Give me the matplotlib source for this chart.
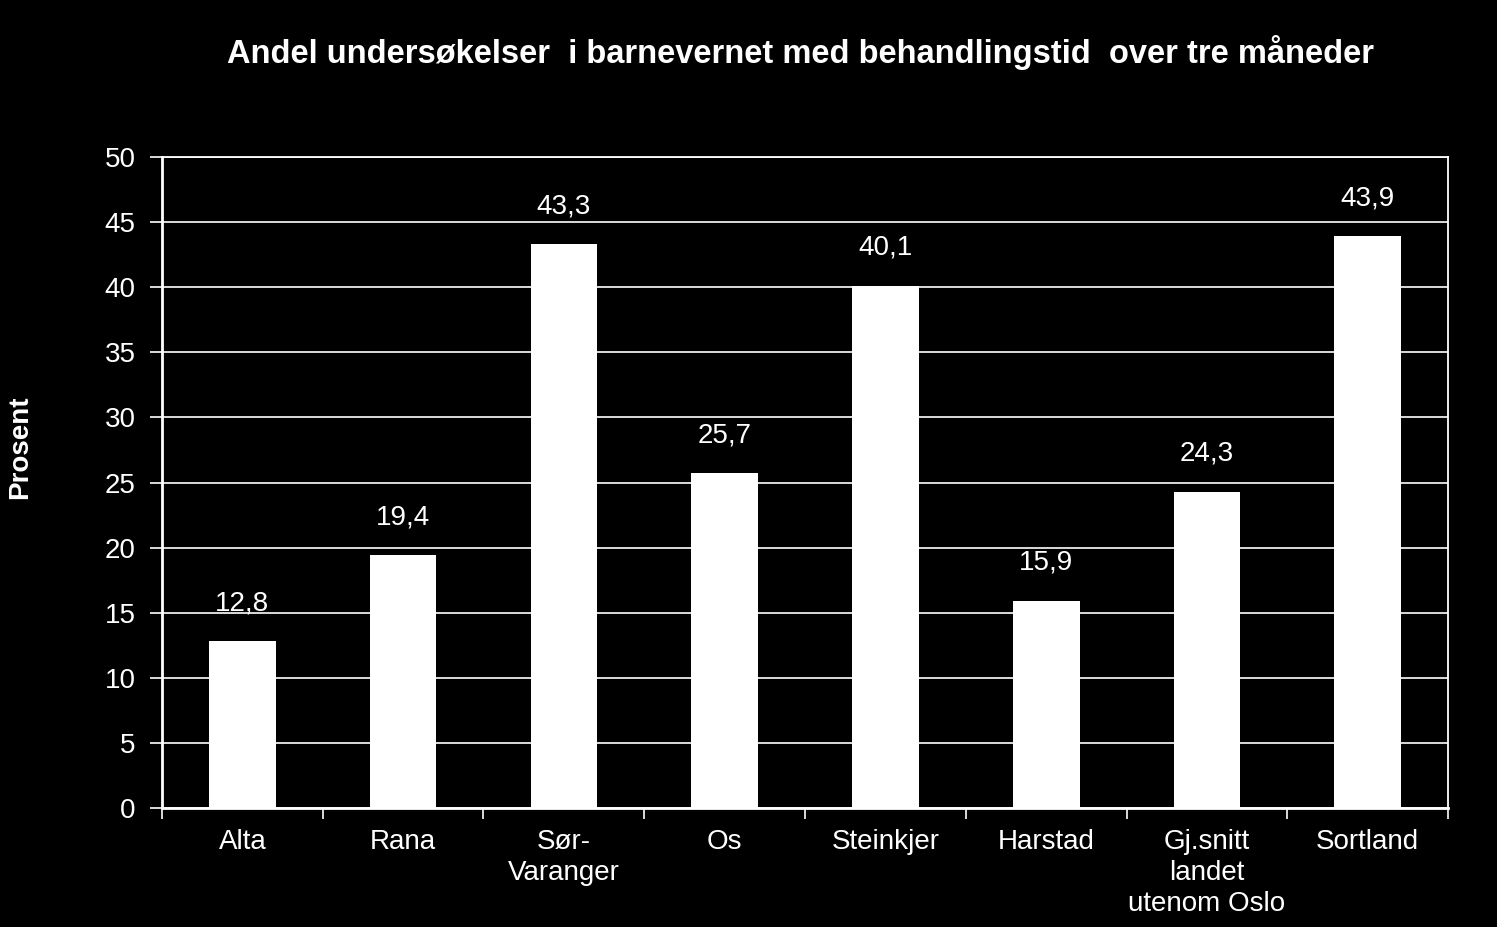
import matplotlib
matplotlib.use("Agg")
import matplotlib.pyplot as plt
import numpy as np

plt.rcParams['font.family'] = ['Liberation Sans', 'DejaVu Sans']

kommuner = ["Alta", "Rana", "Sør-\nVaranger", "Os", "Steinkjer", "Harstad",
            "Gj.snitt\nlandet\nutenom Oslo", "Sortland"]
andel = [12.8, 19.4, 43.3, 25.7, 40.1, 15.9, 24.3, 43.9]
yticks = [0, 5, 10, 15, 20, 25, 30, 35, 40, 45, 50]

fig = plt.figure(figsize=(14.97, 9.27), dpi=100, facecolor="black")
ax = fig.add_axes([0.1082, 0.1284, 0.8591, 0.7022], facecolor="black")

x = np.arange(len(kommuner))
bars = ax.bar(x, andel, width=0.415, color="white", zorder=3)

for b, v in zip(bars, andel):
    ax.annotate(f"{v:.1f}".replace(".", ","), (b.get_x() + b.get_width() / 2, v),
                xytext=(0, 18), textcoords="offset points", ha="center", va="bottom",
                color="white", fontsize=20)

ax.set_xlim(-0.5, len(kommuner) - 0.5)
ax.set_ylim(0, 50)
ax.set_yticks(yticks)
ax.set_yticklabels([str(t) for t in yticks], fontsize=20, color="white")
ax.yaxis.grid(True, color="white", linewidth=1.2, zorder=0)

ax.set_xticks(x)
ax.set_xticklabels(kommuner, fontsize=20, color="white", linespacing=1.25)
ax.tick_params(axis="x", length=0, pad=15)
ax.set_xticks(np.arange(-0.5, len(kommuner)), minor=True)
ax.tick_params(axis="x", which="minor", length=8, width=1.2, color="white")
ax.tick_params(axis="y", length=9, width=1.2, color="white", pad=10)

for s in ["left", "bottom"]:
    ax.spines[s].set_color("white")
    ax.spines[s].set_linewidth(2)
for s in ["top", "right"]:
    ax.spines[s].set_color("white")
    ax.spines[s].set_linewidth(1.3)

fig.text(20 / 1497, 1 - 447 / 927, "Prosent", rotation=90, ha="center", va="center",
         fontsize=20, fontweight="bold", color="white")
fig.text(0.535, 0.943, "Andel undersøkelser  i barnevernet med behandlingstid  over tre måneder",
         ha="center", va="center", fontsize=23.5, fontweight="bold", color="white")

fig.savefig("out.png", dpi=100, facecolor="black")
